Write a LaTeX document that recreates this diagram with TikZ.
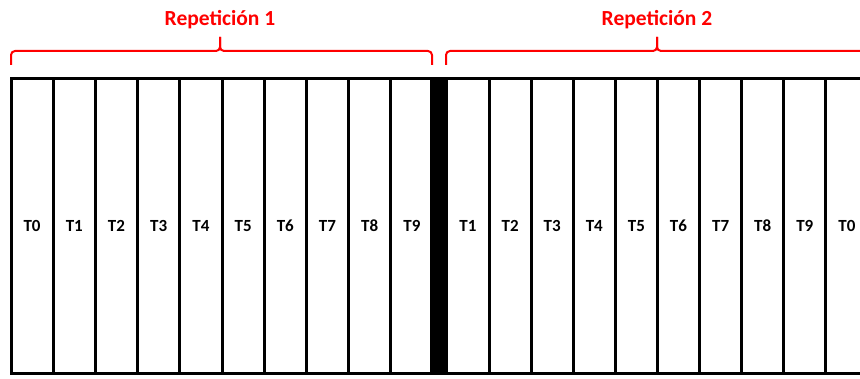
\documentclass[tikz,border=0pt]{standalone}
\usepackage{fontspec}
\setmainfont{Carlito}

\begin{document}
\begin{tikzpicture}[x=1pt, y=-1pt,
  cell/.style={draw, line width=3pt, minimum width=42.2pt, minimum height=295pt, inner sep=0pt, text height=11pt, text depth=0pt, font=\fontsize{17}{20}\selectfont\bfseries},
  brace/.style={draw=red, line width=2pt, rounded corners=4pt},
  reptext/.style={text=red, font=\fontsize{21.5}{25}\selectfont\bfseries}]
\useasboundingbox (0,0) rectangle (860,379);
\clip (0,0) rectangle (860,379);

\foreach \i in {0,...,9}
  \node [cell] (a\i) at (32.1+42.2*\i, 226.5) {T\i};
\foreach \t [count=\i from 0] in {1,...,9,0}
  \node [cell] (b\i) at (468+42.1*\i, 226.5) {T\t};

\node [fill=black, minimum width=18pt, minimum height=298pt, inner sep=0pt] (sep) at (439,226.5) {};

\coordinate (l1) at (11,65);
\coordinate (m1) at (220,51);
\coordinate (t1) at (220,37);
\coordinate (r1) at (432,65);
\coordinate (l2) at (446,65);
\coordinate (m2) at (657,51);
\coordinate (t2) at (657,37);
\coordinate (r2) at (868,65);

\draw [brace] (l1) |- (m1) -- (t1);
\draw [brace] (t1) -- (m1) -| (r1);
\draw [brace] (l2) |- (m2) -- (t2);
\draw [brace] (t2) -- (m2) -| (r2);

\node [reptext] (rep1) at (220,20) {Repetición 1};
\node [reptext] (rep2) at (657,20) {Repetición 2};
\end{tikzpicture}
\end{document}
